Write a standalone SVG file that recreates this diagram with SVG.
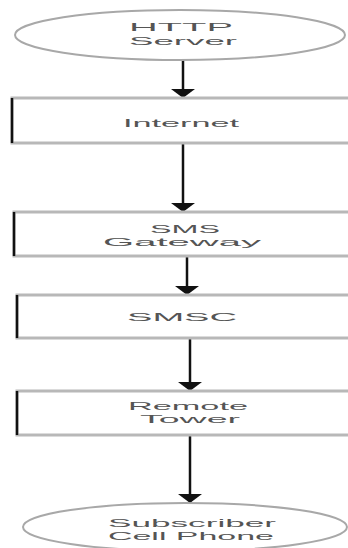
<svg xmlns="http://www.w3.org/2000/svg" width="348" height="548" viewBox="0 0 348 548">
  <defs>
    <marker id="arrow" viewBox="0 0 9 24" refX="9" refY="12" markerWidth="9" markerHeight="24" markerUnits="userSpaceOnUse" orient="auto">
      <path d="M0,0 L9,12 L0,24 Z" fill="#111"/>
    </marker>
    <style>
      .term { fill: #fff; stroke: #a8a8a8; stroke-width: 2; }
      .box { fill: #fff; stroke: #b8b8b8; stroke-width: 3; }
      .edge { stroke: #111; stroke-width: 2.5; }
      .label { font-family: "Liberation Sans", Arial, sans-serif; font-size: 11px; fill: #555; text-anchor: middle; }
      .conn { stroke: #111; stroke-width: 2.5; fill: none; }
    </style>
  </defs>
  <rect width="348" height="548" fill="#fff"/>

  <!-- connectors -->
  <g id="connectors">
    <line class="conn" x1="183" y1="60" x2="183" y2="98" marker-end="url(#arrow)"/>
    <line class="conn" x1="183" y1="143" x2="183" y2="212" marker-end="url(#arrow)"/>
    <line class="conn" x1="187" y1="256" x2="187" y2="295" marker-end="url(#arrow)"/>
    <line class="conn" x1="190" y1="338" x2="190" y2="391" marker-end="url(#arrow)"/>
    <line class="conn" x1="190" y1="435" x2="190" y2="503" marker-end="url(#arrow)"/>
  </g>

  <!-- start terminal -->
  <g id="http-server">
    <ellipse class="term" cx="180" cy="35" rx="165" ry="25"/>
    <text class="label" x="181" y="31" textLength="104" lengthAdjust="spacingAndGlyphs">HTTP</text>
    <text class="label" x="183" y="45" textLength="108" lengthAdjust="spacingAndGlyphs">Server</text>
  </g>

  <g id="internet">
    <rect class="box" x="12" y="98" width="360" height="45"/>
    <line class="edge" x1="12" y1="98" x2="12" y2="143"/>
    <text class="label" x="181" y="127" textLength="116" lengthAdjust="spacingAndGlyphs">Internet</text>
  </g>

  <g id="sms-gateway">
    <rect class="box" x="14" y="212" width="360" height="44"/>
    <line class="edge" x1="14" y1="212" x2="14" y2="256"/>
    <text class="label" x="185" y="233" textLength="70" lengthAdjust="spacingAndGlyphs">SMS</text>
    <text class="label" x="182" y="246" textLength="158" lengthAdjust="spacingAndGlyphs">Gateway</text>
  </g>

  <g id="smsc">
    <rect class="box" x="17" y="295" width="360" height="43"/>
    <line class="edge" x1="17" y1="295" x2="17" y2="338"/>
    <text class="label" x="182" y="321" textLength="110" lengthAdjust="spacingAndGlyphs">SMSC</text>
  </g>

  <g id="remote-tower">
    <rect class="box" x="17" y="391" width="360" height="44"/>
    <line class="edge" x1="17" y1="391" x2="17" y2="435"/>
    <text class="label" x="188" y="410" textLength="120" lengthAdjust="spacingAndGlyphs">Remote</text>
    <text class="label" x="190" y="423" textLength="100" lengthAdjust="spacingAndGlyphs">Tower</text>
  </g>

  <!-- end terminal -->
  <g id="subscriber-phone">
    <ellipse class="term" cx="185" cy="527" rx="162" ry="24"/>
    <text class="label" x="192" y="527" textLength="168" lengthAdjust="spacingAndGlyphs">Subscriber</text>
    <text class="label" x="191" y="540" textLength="166" lengthAdjust="spacingAndGlyphs">Cell Phone</text>
  </g>
</svg>
